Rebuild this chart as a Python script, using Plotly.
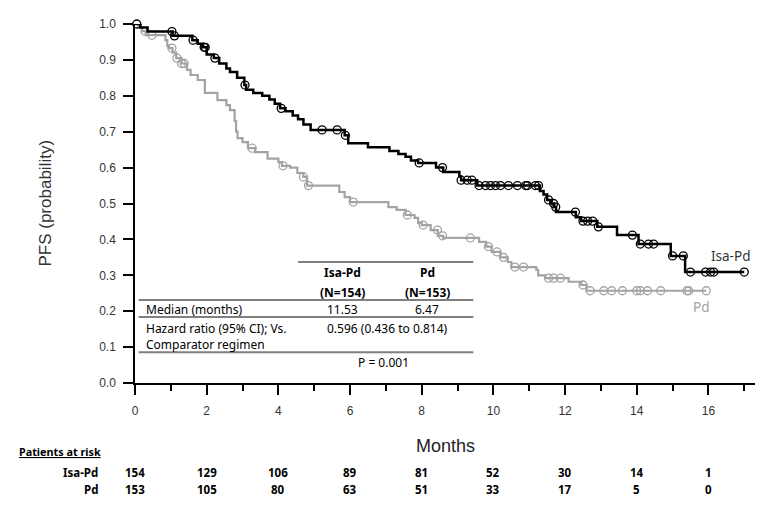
import plotly.graph_objects as go
import numpy as np

# ---------------- data ----------------
isa_t = [0, 0.15, 0.35, 1.05, 1.6, 1.75, 1.9, 2.0, 2.2, 2.35, 2.55, 2.65, 2.85, 3.05, 3.1,
         3.3, 3.55, 3.75, 3.9, 4.05, 4.2, 4.4, 4.55, 4.7, 4.9, 5.85, 5.95, 6.5, 7.1, 7.35,
         7.55, 7.7, 7.9, 8.4, 8.6, 9.05, 9.1, 9.55, 11.3, 11.4, 11.5, 11.6, 11.7, 11.75,
         12.3, 12.45, 12.9, 13.45, 14.05, 14.95, 15.35, 17.0]
isa_s = [1.0, 0.99, 0.979, 0.967, 0.955, 0.945, 0.935, 0.915, 0.905, 0.89, 0.876, 0.866, 0.85,
         0.83, 0.817, 0.808, 0.8, 0.79, 0.778, 0.765, 0.757, 0.745, 0.735, 0.72, 0.705, 0.69,
         0.668, 0.657, 0.646, 0.638, 0.63, 0.62, 0.613, 0.6, 0.588, 0.575, 0.565, 0.55, 0.535,
         0.525, 0.51, 0.5, 0.49, 0.476, 0.462, 0.451, 0.435, 0.412, 0.387, 0.354, 0.309, 0.309]
isa_cens = [0.05, 1.03, 1.1, 1.62, 1.93, 1.96, 2.23, 3.07, 4.08, 5.22, 5.64, 5.87, 7.93, 8.58,
            9.1, 9.27, 9.4, 9.6, 9.78, 9.92, 10.06, 10.2, 10.42, 10.67, 10.9, 10.95, 11.17,
            11.26, 11.54, 11.68, 11.74, 12.29, 12.5, 12.63, 12.77, 12.93, 13.88, 14.1, 14.33,
            14.47, 15.0, 15.3, 15.5, 15.92, 16.06, 16.15, 17.0]

pd_t = [0, 0.1, 0.2, 0.3, 0.85, 0.9, 0.95, 1.05, 1.15, 1.3, 1.45, 1.55, 1.75, 1.95, 2.3, 2.55,
        2.65, 2.78, 2.82, 2.86, 3.0, 3.15, 3.35, 3.7, 4.0, 4.1, 4.33, 4.53, 4.7, 4.8, 5.7, 5.85,
        6.0, 7.07, 7.3, 7.55, 7.8, 7.9, 8.0, 8.25, 8.45, 8.6, 9.6, 9.8, 9.95, 10.2, 10.4, 10.5,
        11.2, 11.25, 11.45, 12.1, 12.45, 12.6, 15.94]
pd_s = [1.0, 0.99, 0.98, 0.969, 0.955, 0.94, 0.933, 0.92, 0.905, 0.89, 0.872, 0.858, 0.844,
        0.808, 0.788, 0.774, 0.76, 0.73, 0.70, 0.682, 0.671, 0.654, 0.643, 0.625, 0.615, 0.605,
        0.6, 0.585, 0.574, 0.55, 0.532, 0.518, 0.504, 0.49, 0.482, 0.468, 0.46, 0.446, 0.44,
        0.426, 0.41, 0.404, 0.393, 0.38, 0.365, 0.35, 0.337, 0.323, 0.315, 0.30, 0.292, 0.282,
        0.273, 0.257, 0.257]
pd_cens = [0.28, 0.47, 1.03, 1.17, 1.3, 1.37, 3.27, 4.13, 4.7, 4.84, 6.09, 7.6, 8.04, 8.44,
           8.58, 9.36, 9.86, 10.1, 10.28, 10.6, 10.84, 11.54, 11.68, 11.87, 12.5, 12.7, 13.08,
           13.3, 13.6, 14.0, 14.1, 14.3, 14.67, 15.4, 15.45, 15.94]

risk_months = [0, 2, 4, 6, 8, 10, 12, 14, 16]
risk_isa = [154, 129, 106, 89, 81, 52, 30, 14, 1]
risk_pd = [153, 105, 80, 63, 51, 33, 17, 5, 0]

X_MAX = 17.3


def step_value(times, surv, t):
    idx = np.searchsorted(np.array(times), t, side="right") - 1
    return surv[max(idx, 0)]


isa_cens_y = [step_value(isa_t, isa_s, t) for t in isa_cens]
pd_cens_y = [step_value(pd_t, pd_s, t) for t in pd_cens]

BLACK = "#000000"
GRAY = "#a3a3a3"
TXT = "Noto Sans"

fig = go.Figure()
fig.add_trace(go.Scatter(x=pd_t, y=pd_s, mode="lines", line=dict(shape="hv", color=GRAY, width=2.2),
                         cliponaxis=False, hoverinfo="skip"))
fig.add_trace(go.Scatter(x=pd_cens, y=pd_cens_y, mode="markers", cliponaxis=False,
                         marker=dict(symbol="circle-open", size=8, color=GRAY, line=dict(width=1.3, color=GRAY))))
fig.add_trace(go.Scatter(x=isa_t, y=isa_s, mode="lines", line=dict(shape="hv", color=BLACK, width=2.5),
                         cliponaxis=False, hoverinfo="skip"))
fig.add_trace(go.Scatter(x=isa_cens, y=isa_cens_y, mode="markers", cliponaxis=False,
                         marker=dict(symbol="circle-open", size=8, color=BLACK, line=dict(width=1.3, color=BLACK))))

# ----- in-plot summary table -----
line_col = "#7f7f7f"
for (x0, x1, y) in [(4.55, 9.44, 0.337), (0.1, 9.44, 0.231), (0.1, 9.44, 0.184), (0.1, 9.44, 0.086)]:
    fig.add_shape(type="line", xref="x", yref="y", x0=x0, x1=x1, y0=y, y1=y,
                  line=dict(color=line_col, width=2))


def ann(text, x, y, size=12, xanchor="center", color="black", family=TXT, textangle=0):
    # x in months, y in probability units -> converted to paper coordinates
    fig.add_annotation(text=text, x=x / X_MAX, y=y, xref="paper", yref="paper", showarrow=False,
                       xanchor=xanchor, yanchor="middle", textangle=textangle,
                       font=dict(family=family, size=size, color=color))


ann("<b>Isa-Pd</b>", 5.78, 0.309)
ann("<b>Pd</b>", 8.16, 0.309)
ann("<b>(N=154)</b>", 5.78, 0.253)
ann("<b>(N=153)</b>", 8.16, 0.253)
ann("Median (months)", 0.25, 0.206, xanchor="left")
ann("11.53", 5.78, 0.206)
ann("6.47", 8.16, 0.206)
ann("Hazard ratio (95% CI); Vs.", 0.25, 0.153, xanchor="left")
ann("0.596 (0.436 to 0.814)", 7.04, 0.153)
ann("Comparator regimen", 0.25, 0.106, xanchor="left")
ann("P = 0.001", 6.93, 0.058)

# curve labels
ann("Isa-Pd", 16.62, 0.354, size=13.5, color="#333333")
ann("Pd", 15.8, 0.212, size=13.5, color=GRAY)

# axis titles
ann("PFS (probability)", -2.51, 0.5, size=17, color="#333333", family="Liberation Sans",
    textangle=-90)
ann("Months", X_MAX / 2, -0.175, size=18, color="#222222", family="Liberation Sans")

# risk table
ann("<b><u>Patients at risk</u></b>", -3.3, -0.192, size=10.8, xanchor="left")
ann("<b>Isa-Pd</b>", -0.98, -0.248, size=11.5, xanchor="right")
ann("<b>Pd</b>", -0.98, -0.298, size=11.5, xanchor="right")
for m, a, b in zip(risk_months, risk_isa, risk_pd):
    ann(f"<b>{a}</b>", m, -0.248, size=11.5)
    ann(f"<b>{b}</b>", m, -0.298, size=11.5)

fig.update_layout(
    width=774, height=523,
    margin=dict(l=135, r=19, t=24, b=140),
    plot_bgcolor="white", paper_bgcolor="white",
    showlegend=False,
    xaxis=dict(range=[0, X_MAX], tickvals=list(range(0, 17, 2)), ticks="outside", ticklen=10,
               tickwidth=1.5, tickcolor="black", showline=True, linecolor="black", linewidth=1.5,
               showgrid=False, zeroline=False, ticklabelstandoff=6,
               tickfont=dict(family="Liberation Sans", size=12, color="#333333"),
               minor=dict(dtick=1, ticks="outside", ticklen=6, tickwidth=1.5, tickcolor="black",
                          showgrid=False)),
    yaxis=dict(range=[0, 1.0], tickvals=[i / 10 for i in range(11)], tickformat=".1f",
               ticks="outside", ticklen=10, tickwidth=1.5, tickcolor="black", showline=True,
               linecolor="black", linewidth=1.5, showgrid=False, zeroline=False,
               ticklabelstandoff=5,
               tickfont=dict(family="Liberation Sans", size=12, color="#333333")),
)

fig.write_html("out.html")
